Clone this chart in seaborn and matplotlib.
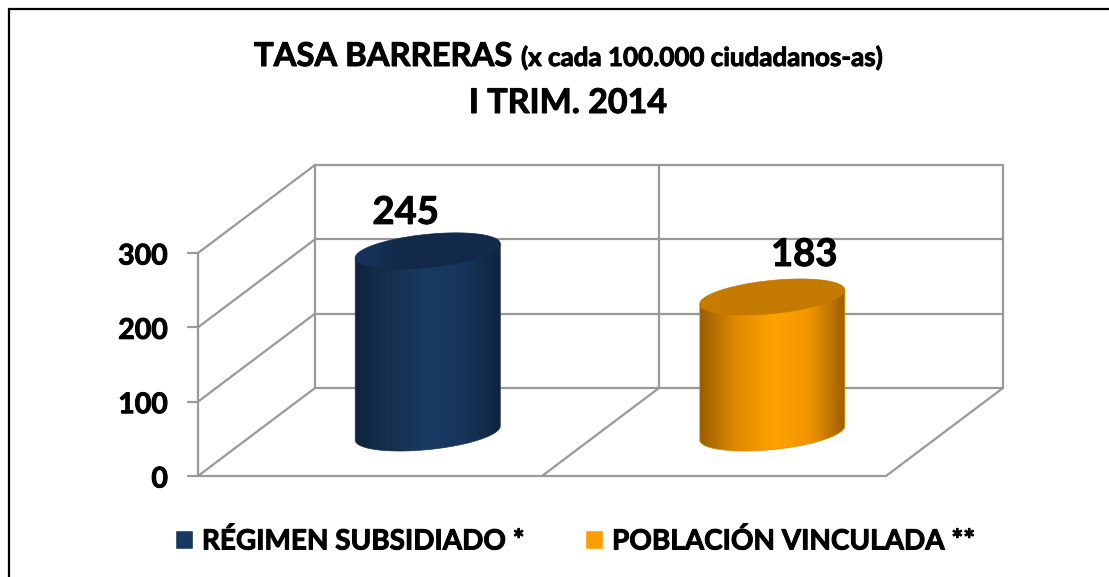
import numpy as np
import pandas as pd
import matplotlib
matplotlib.use("Agg")
import matplotlib.pyplot as plt
import matplotlib.patheffects as pe
from matplotlib.colors import LinearSegmentedColormap
from matplotlib.patches import Polygon
import seaborn as sns

# ==================================================
# DATA
# ==================================================

grupos = ["RÉGIMEN SUBSIDIADO *", "POBLACIÓN VINCULADA **"]
tasas = [245, 183]
y_ticks = [0, 100, 200, 300]

# ==================================================
# SETTINGS
# ==================================================

sns.set_style("white")
plt.rcParams["font.family"] = ["Lato", "DejaVu Sans"]
plt.rcParams["font.weight"] = "bold"

W, H = 1109, 577
colores = ["#17375E", "#FF9C00"]
rampas = [
    ["#0F243E", "#15304F", "#1A3A63", "#17355B", "#0F243E"],
    ["#9A5E00", "#E08A00", "#FFA200", "#F29500", "#9A5E00"],
]
tapas = [
    ["#17365C", "#12294A", "#12294A", "#132B4C"],
    ["#C87D00", "#C47A00", "#C47A00", "#C47A00"],
]
gris = "#999999"
grueso = [pe.withStroke(linewidth=0.7, foreground="black")]

# 3D box, in pixels
x_front, x_back = 198, 315
y_front, y_back = 476, 388
ancho = 688
px_por_unidad = 223 / 300

fig = plt.figure(figsize=(W / 100, H / 100), dpi=100)

# ==================================================
# WALLS AND TEXT (pixel axes)
# ==================================================

bg = fig.add_axes([0, 0, 1, 1], zorder=0)
bg.set_xlim(0, W)
bg.set_ylim(H, 0)
bg.axis("off")

linea = dict(color=gris, lw=1.6, solid_capstyle="round")

for v in y_ticks:
    dy = v * px_por_unidad
    bg.plot([x_back, x_back + ancho], [y_back - dy, y_back - dy], **linea)
    bg.plot([x_front, x_back], [y_front - dy, y_back - dy], **linea)
    bg.plot([x_front - 10, x_front], [y_front - dy, y_front - dy], **linea)
    bg.text(168, y_front - dy + 1, str(v), ha="right", va="center_baseline",
            fontsize=20.5, color="black", path_effects=grueso)

alto = y_ticks[-1] * px_por_unidad
bg.plot([x_front, x_front], [y_front, y_front - alto], **linea)
for i in range(3):
    x = x_back + i * ancho / 2
    bg.plot([x, x], [y_back, y_back - alto], **linea)
bg.plot([x_front, x_front + ancho], [y_front, y_front], **linea)
for i in [1, 2]:
    x = x_front + i * ancho / 2
    bg.plot([x, x + x_back - x_front], [y_front, y_back], **linea)

# outer frame, only left and top show
bg.plot([9, 9, W], [H, 9, 9], color="black", lw=1.6, solid_joinstyle="miter")

bg.text(254, 66, "TASA BARRERAS", fontsize=23.6, ha="left", va="baseline",
        color="black", path_effects=grueso)
bg.text(521, 66, "(x cada 100.000 ciudadanos-as)", fontsize=18.7, ha="left",
        va="baseline", color="black", path_effects=grueso)
bg.text(568, 113, "I TRIM. 2014", fontsize=24.5, ha="center", va="baseline",
        color="black", path_effects=grueso)

# ==================================================
# BARS
# ==================================================

ax = fig.add_axes([255.5 / W, (H - 433) / H, 689 / W, 223 / H], zorder=1)
ax.patch.set_alpha(0)

df = pd.DataFrame({"grupo": grupos, "tasa": tasas})

sns.barplot(
    data=df,
    x="grupo",
    y="tasa",
    hue="grupo",
    palette=colores,
    width=0.421,
    dodge=False,
    saturation=1,
    legend=True,
    ax=ax,
)
ax.set_xlim(-0.5, 1.5)
ax.set_ylim(0, 300)
ax.set_autoscale_on(False)

inclinacion = 7 / px_por_unidad
radio_y = 16.6 / px_por_unidad


def relleno(path_xy, stops, x0, x1, y0, y1, z):
    cmap = LinearSegmentedColormap.from_list("c", stops)
    img = ax.imshow(np.linspace(0, 1, 256).reshape(1, -1), cmap=cmap,
                    extent=[x0, x1, y0, y1], aspect="auto", zorder=z,
                    interpolation="bilinear")
    img.set_clip_path(Polygon(path_xy, closed=True, transform=ax.transData))
    img.set_clip_box(fig.bbox)
    borde = Polygon(path_xy, closed=True, fc="none", ec=stops[1], lw=0.5,
                    zorder=z, clip_on=False)
    ax.add_patch(borde)


for i, contenedor in enumerate(ax.containers):
    barra = contenedor[0]
    a = barra.get_width() / 2
    cx = barra.get_x() + a
    v = barra.get_height()
    barra.set_visible(False)

    # body: top edge, right side, then under the base back to the left
    t = np.linspace(0, -np.pi, 91)
    bx = cx + a * np.cos(t)
    by = inclinacion * np.cos(t) + radio_y * np.sin(t)
    cuerpo = np.c_[np.r_[cx - a, cx + a, bx], np.r_[v - inclinacion, v + inclinacion, by]]
    relleno(cuerpo, rampas[i], cx - a, cx + a, -radio_y * 3, v + radio_y * 3, 3)

    # top cap
    t = np.linspace(0, 2 * np.pi, 181)
    ex = cx + a * np.cos(t)
    ey = v + inclinacion * np.cos(t) + radio_y * np.sin(t)
    relleno(np.c_[ex, ey], tapas[i], cx - a, cx + a, v - radio_y * 3, v + radio_y * 3, 4)

# ==================================================
# LABELS AND LEGEND
# ==================================================

desplazamiento = [(-22, 41), (32, 45)]
for i, v in enumerate(tasas):
    ax.annotate(str(v), xy=(i, v), xytext=desplazamiento[i],
                textcoords="offset pixels", ha="center", va="center_baseline",
                fontsize=27.5, color="black", annotation_clip=False, zorder=6,
                path_effects=grueso)

sns.move_legend(
    ax,
    loc="center left",
    bbox_to_anchor=(175, 541),
    bbox_transform=bg.transData,
    ncol=2,
    title=None,
    frameon=False,
    fontsize=20.1,
    labelcolor="black",
    handlelength=0.645,
    handleheight=0.645,
    handletextpad=0.32,
    columnspacing=2.2,
    borderpad=0,
    borderaxespad=0,
)
for texto in ax.get_legend().get_texts():
    texto.set_path_effects(grueso)
ax.axis("off")

fig.savefig("out.png", dpi=100)
plt.close(fig)
